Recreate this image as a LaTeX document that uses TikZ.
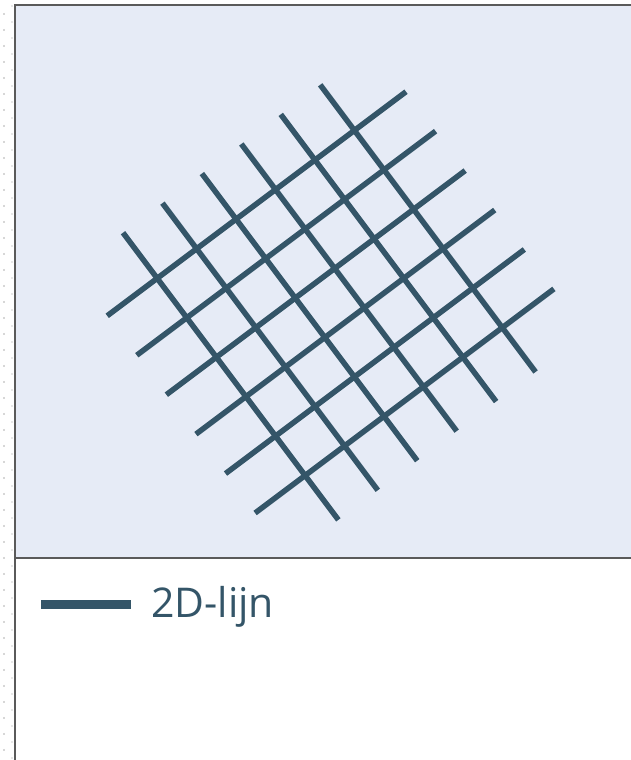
\documentclass[tikz,border=0pt]{standalone}
\usepackage{fontspec}
\setmainfont{Open Sans}
\usepackage{tikz}
\usetikzlibrary{positioning}
\definecolor{mygrid}{RGB}{52,85,104}
\definecolor{myframe}{RGB}{90,90,90}
\definecolor{mypanel}{RGB}{230,235,246}
\definecolor{myguide}{RGB}{215,215,215}
\tikzset{
  gridline/.style={line width=5.5pt, color=mygrid},
  legendline/.style={line width=9pt, color=mygrid},
  frameline/.style={line width=2.5pt, color=myframe},
  guideline/.style={line width=2pt, color=myguide, dash pattern=on 2pt off 14pt},
  legendlabel/.style={font=\fontsize{41}{49}\selectfont, text=mygrid, inner sep=0pt}
}

\begin{document}
\begin{tikzpicture}[x=1pt, y=1pt]
  \useasboundingbox (0,0) rectangle (631,760);

  % Guides at the left margin
  \draw[guideline] (4,747) -- (4,0);
  \draw[guideline, myguide!60] (12,755) -- (12,0);

  % Plot panel
  \fill[mypanel] (15,755) rectangle (632,202);

  % Rotated grid of lines
  \begin{scope}[shift={(157.2,481.7)}, rotate=36.87]
    \foreach \j in {0,...,5}
      \draw[gridline] (-62.5,-49.3*\j) -- (311,-49.3*\j);
    \foreach \i in {0,...,5}
      \draw[gridline] (49.3*\i,57) -- (49.3*\i,-302);
  \end{scope}

  % Frame and divider
  \draw[frameline] (632,755) -- (15,755) -- (15,0);
  \draw[frameline] (15,202) -- (632,202);

  % Legend
  \coordinate (legstart) at (41,155.5);
  \coordinate (legend end) at (131,155.5);
  \draw[legendline] (legstart) -- (legend end);
  \node[legendlabel, anchor=base west] (legendlbl) at (151,142) {2D-lijn};
\end{tikzpicture}
\end{document}
